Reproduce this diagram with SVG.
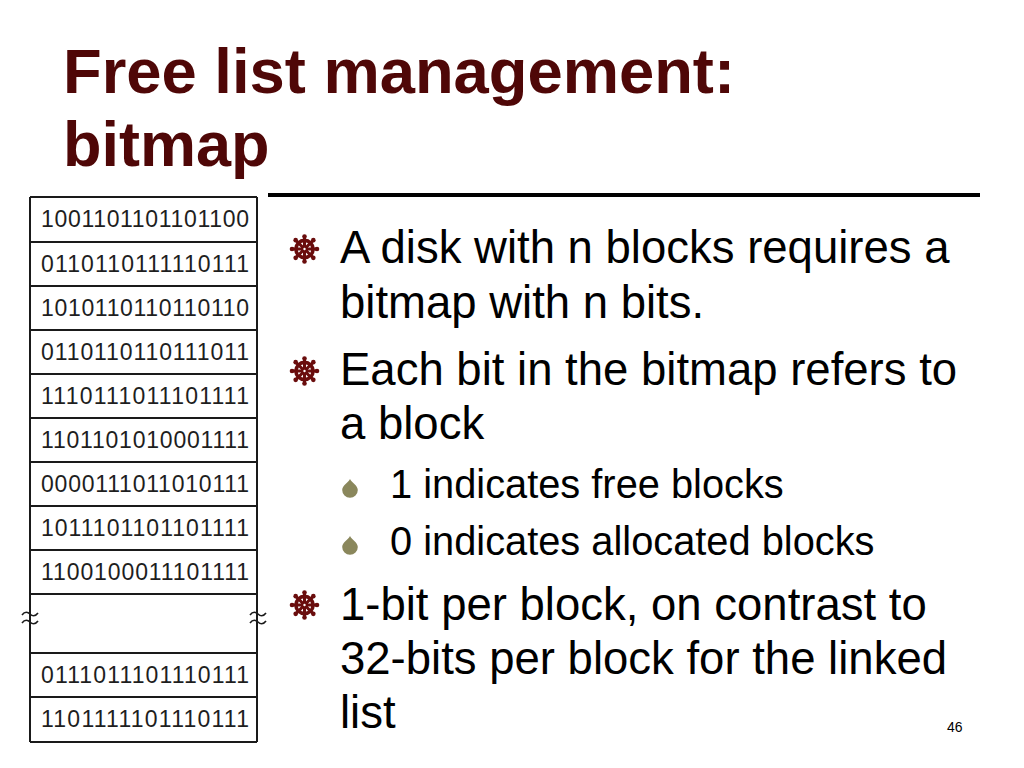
<svg xmlns="http://www.w3.org/2000/svg" xmlns:xlink="http://www.w3.org/1999/xlink" width="1024" height="768" viewBox="0 0 1024 768">
<style>
.title{font-family:"Liberation Sans",Arial,sans-serif;font-weight:bold;font-size:63px;fill:#4f0707}
.bits{font-family:"Liberation Sans",Arial,sans-serif;font-size:23px;fill:#1e1e1e}
.b1{font-family:"Liberation Sans",Arial,sans-serif;font-size:45.5px;fill:#000}
.b2{font-family:"Liberation Sans",Arial,sans-serif;font-size:39.8px;fill:#000}
.pg{font-family:"Liberation Sans",Arial,sans-serif;font-size:14px;fill:#000}
.cell{fill:none;stroke:#1a1a1a;stroke-width:2}
.sq{fill:none;stroke:#1a1a1a;stroke-width:1.6}
</style>
<defs>
<g id="wheel" fill="#6a0d0d" stroke="#6a0d0d">
<circle r="8.6" fill="none" stroke-width="3.6"/>
<circle r="3.6" stroke="none"/>
<g stroke-width="3" stroke-linecap="round">
<line x1="0" y1="0" x2="0" y2="-12.5"/>
<line x1="0" y1="0" x2="0" y2="12.5"/>
<line x1="0" y1="0" x2="12.5" y2="0"/>
<line x1="0" y1="0" x2="-12.5" y2="0"/>
<line x1="0" y1="0" x2="8.84" y2="8.84"/>
<line x1="0" y1="0" x2="-8.84" y2="8.84"/>
<line x1="0" y1="0" x2="8.84" y2="-8.84"/>
<line x1="0" y1="0" x2="-8.84" y2="-8.84"/>
</g>
<g stroke="none">
<circle cx="0" cy="-12.5" r="2.3"/><circle cx="0" cy="12.5" r="2.3"/>
<circle cx="12.5" cy="0" r="2.3"/><circle cx="-12.5" cy="0" r="2.3"/>
<circle cx="8.84" cy="8.84" r="2.3"/><circle cx="-8.84" cy="8.84" r="2.3"/>
<circle cx="8.84" cy="-8.84" r="2.3"/><circle cx="-8.84" cy="-8.84" r="2.3"/>
</g>
<circle r="1.2" fill="#fff" stroke="none"/>
</g>
<path id="drop" d="M0,-18 C2,-14 7.8,-11.5 7.8,-7 A7.8,7.8 0 0 1 -7.8,-7 C-7.8,-11.5 -2,-14 0,-18 Z" fill="#8a875c"/>
<path id="tilde" d="M-8,0 C-5,-4 -2,-3 0,-1 C2,1 5,2 8,-2"/>
</defs>

<g id="title">
<text class="title" x="63" y="93" textLength="672" lengthAdjust="spacingAndGlyphs">Free list management:</text>
<text class="title" x="63" y="166">bitmap</text>
</g>
<line x1="268" y1="195" x2="980" y2="195" stroke="#000" stroke-width="4"/>

<g id="bitmap">
<line class="cell" x1="30" y1="197" x2="257" y2="197"/>
<line class="cell" x1="30" y1="197" x2="30" y2="742"/>
<line class="cell" x1="257" y1="197" x2="257" y2="742"/>
<line class="cell" x1="30" y1="242" x2="257" y2="242"/>
<line class="cell" x1="30" y1="286" x2="257" y2="286"/>
<line class="cell" x1="30" y1="330" x2="257" y2="330"/>
<line class="cell" x1="30" y1="374" x2="257" y2="374"/>
<line class="cell" x1="30" y1="418" x2="257" y2="418"/>
<line class="cell" x1="30" y1="462" x2="257" y2="462"/>
<line class="cell" x1="30" y1="506" x2="257" y2="506"/>
<line class="cell" x1="30" y1="550" x2="257" y2="550"/>
<line class="cell" x1="30" y1="594" x2="257" y2="594"/>
<line class="cell" x1="30" y1="653" x2="257" y2="653"/>
<line class="cell" x1="30" y1="697" x2="257" y2="697"/>
<line class="cell" x1="30" y1="742" x2="257" y2="742"/>
<g class="sq">
<use xlink:href="#tilde" x="30" y="615"/>
<use xlink:href="#tilde" x="30" y="623"/>
<use xlink:href="#tilde" x="258" y="615"/>
<use xlink:href="#tilde" x="258" y="623"/>
</g>
<g class="bits">
<text x="41" y="227" textLength="208">1001101101101100</text>
<text x="41" y="272" textLength="208">0110110111110111</text>
<text x="41" y="316" textLength="208">1010110110110110</text>
<text x="41" y="360" textLength="208">0110110110111011</text>
<text x="41" y="404" textLength="208">1110111011101111</text>
<text x="41" y="448" textLength="208">1101101010001111</text>
<text x="41" y="492" textLength="208">0000111011010111</text>
<text x="41" y="536" textLength="208">1011101101101111</text>
<text x="41" y="580" textLength="208">1100100011101111</text>
<text x="41" y="683" textLength="208">0111011101110111</text>
<text x="41" y="727" textLength="208">1101111101110111</text>
</g>
</g>

<g id="bullet1">
<use xlink:href="#wheel" x="304.5" y="249"/>
<text class="b1" x="340" y="263">A disk with n blocks requires a</text>
<text class="b1" x="340" y="318">bitmap with n bits.</text>
</g>
<g id="bullet2">
<use xlink:href="#wheel" x="304.5" y="371"/>
<text class="b1" x="340" y="385">Each bit in the bitmap refers to</text>
<text class="b1" x="340" y="439">a block</text>
</g>
<g id="sub1">
<use xlink:href="#drop" x="350" y="497"/>
<text class="b2" x="390" y="498">1 indicates free blocks</text>
</g>
<g id="sub2">
<use xlink:href="#drop" x="350" y="554"/>
<text class="b2" x="390" y="555">0 indicates allocated blocks</text>
</g>
<g id="bullet3">
<use xlink:href="#wheel" x="304.5" y="605"/>
<text class="b1" x="340" y="620">1-bit per block, on contrast to</text>
<text class="b1" x="340" y="674">32-bits per block for the linked</text>
<text class="b1" x="340" y="728">list</text>
</g>
<text class="pg" x="947" y="732">46</text>
</svg>
